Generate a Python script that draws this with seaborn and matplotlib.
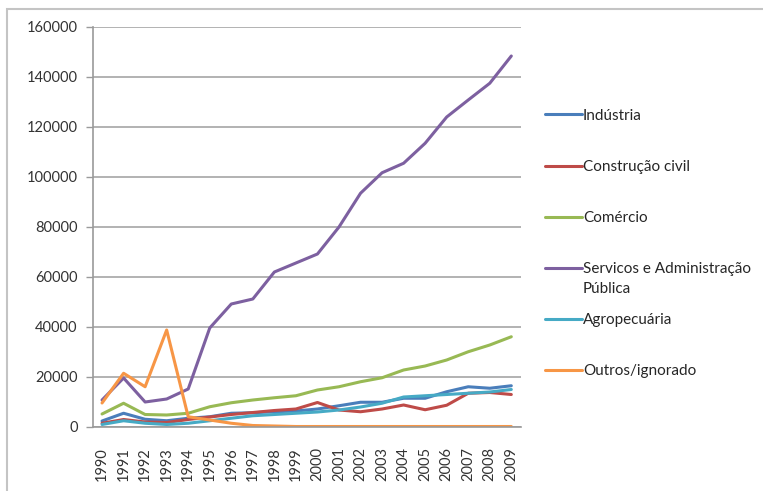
import matplotlib
matplotlib.use("Agg")
import matplotlib.pyplot as plt
from matplotlib.patches import Rectangle
import numpy as np
import pandas as pd
import seaborn as sns

years = list(range(1990, 2010))

industria = [2400, 5500, 3100, 2500, 3500, 4100, 5500, 5700, 6100, 6400,
             7200, 8500, 9900, 9900, 11500, 11500, 14100, 16100, 15500, 16500]
construcao = [1500, 3000, 2000, 1800, 3000, 4000, 5000, 5800, 6600, 7200,
              9800, 6800, 6100, 7200, 8800, 6900, 8700, 13500, 13800, 13000]
comercio = [5200, 9500, 5000, 4800, 5500, 8100, 9700, 10800, 11700, 12500,
            14800, 16100, 18100, 19700, 22800, 24400, 26800, 30100, 32800, 36100]
servicos = [10800, 19600, 10000, 11200, 15200, 39600, 49200, 51200, 62000, 65600,
            69200, 80000, 93500, 101700, 105500, 113500, 124000, 130800, 137500, 148400]
agropecuaria = [1000, 2500, 1500, 1000, 1500, 2500, 3500, 4500, 5000, 5500,
                6000, 6800, 8000, 9500, 12000, 12500, 13000, 13500, 14000, 15000]
outros = [9600, 21500, 16100, 38800, 4100, 2800, 1500, 600, 400, 200,
          200, 200, 200, 200, 200, 200, 200, 200, 200, 200]

series_names = ["Indústria", "Construção civil", "Comércio",
                "Servicos e Administração Pública", "Agropecuária", "Outros/ignorado"]
series_values = [industria, construcao, comercio, servicos, agropecuaria, outros]
colors = ["#4A7EBB", "#BE4B48", "#98B954", "#7D60A0", "#46AAC5", "#F79646"]

y_ticks = [0, 20000, 40000, 60000, 80000, 100000, 120000, 140000, 160000]

df = pd.DataFrame(
    [(y, v, name) for name, vals in zip(series_names, series_values) for y, v in zip(years, vals)],
    columns=["ano", "valor", "setor"],
)

sns.set_style("white")
plt.rcParams["font.family"] = ["Lato", "DejaVu Sans"]

fig = plt.figure(figsize=(7.63, 4.91), dpi=100)
ax = fig.add_axes([93 / 763, 1 - 427 / 491, (521 - 93) / 763, 400 / 491])

sns.lineplot(data=df, x="ano", y="valor", hue="setor", hue_order=series_names,
             palette=colors, linewidth=2.2, ax=ax, legend=False)

ax.set_xlim(1989.58, 2009.45)
ax.set_ylim(0, 160000)
ax.set_yticks(y_ticks)
ax.set_yticklabels([str(t) for t in y_ticks], fontsize=10.5, color="#333333")
ax.set_xticks(years)
ax.set_xticklabels([str(y) for y in years], rotation=90, fontsize=10.5, color="#333333")
ax.set_xlabel("")
ax.set_ylabel("")

ax.grid(axis="y", color="#a6a6a6", linewidth=1.2)
ax.set_axisbelow(True)
for side in ["top", "right"]:
    ax.spines[side].set_visible(False)
for side in ["left", "bottom"]:
    ax.spines[side].set_color("#9a9a9a")
    ax.spines[side].set_linewidth(1.2)
ax.tick_params(axis="y", which="major", left=True, length=5, width=1, color="#9a9a9a", pad=6)
ax.tick_params(axis="x", which="major", bottom=False, pad=11)

# legend: long label wrapped, with its second line placed under the first
legend_labels = [n.replace(" Pública", "") for n in series_names]
handles = [plt.Line2D([], [], color=c, linewidth=2.2) for c in colors]
leg = fig.legend(handles, legend_labels, loc="upper left",
                 bbox_to_anchor=(531 / 763, 1 - 95 / 491), frameon=False,
                 fontsize=11, handlelength=2.45, handletextpad=0.05,
                 labelspacing=2.43, labelcolor="#262626")

fig.canvas.draw()
long_text = leg.get_texts()[3]
bb = long_text.get_window_extent().transformed(fig.transFigure.inverted())
fig.text(bb.x0, bb.y0 - 20 / 491, "Pública", fontsize=11, color="#262626",
         ha="left", va="bottom")

# outer border of the figure
fig.patches.append(Rectangle((7 / 763, -0.2), 1.2, 1.2 - 9 / 491,
                             transform=fig.transFigure, fill=False,
                             edgecolor="#c4c4c4", linewidth=1.5))

fig.savefig("out.png", dpi=100)
